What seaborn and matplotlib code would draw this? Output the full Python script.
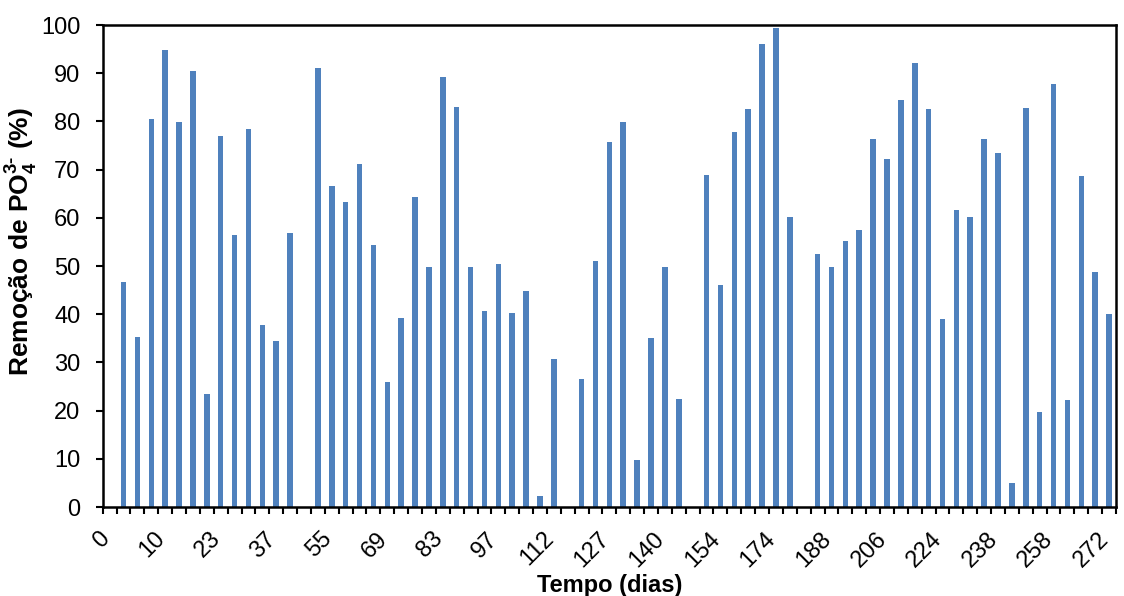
import numpy as np
import pandas as pd
import matplotlib
matplotlib.use("Agg")
import matplotlib.pyplot as plt
from matplotlib.ticker import FixedLocator, FixedFormatter
from matplotlib.transforms import ScaledTranslation
import seaborn as sns

# Phosphate removal (%) per sampling campaign; None = no measurement
removal = [
    None, 46.7, 35.2, 80.5, 94.8, 79.8, 90.5, 23.4, 77.0, 56.4,
    78.4, 37.8, 34.5, 56.9, None, 91.1, 66.6, 63.2, 71.2, 54.4,
    25.9, 39.3, 64.3, 49.9, 89.3, 83.0, 49.7, 40.7, 50.4, 40.2,
    44.9, 2.3, 30.8, None, 26.6, 51.1, 75.8, 79.9, 9.8, 35.0,
    49.9, 22.5, None, 68.9, 46.0, 77.9, 82.5, 96.0, 99.4, 60.1,
    None, 52.5, 49.7, 55.1, 57.5, 76.3, 72.2, 84.4, 92.1, 82.6,
    39.1, 61.6, 60.2, 76.3, 73.4, 5.0, 82.8, 19.7, 87.7, 22.3,
    68.7, 48.8, 40.0,
]
# Day labels shown on every fourth campaign
day_labels = ["0", "10", "23", "37", "55", "69", "83", "97", "112", "127",
              "140", "154", "174", "188", "206", "224", "238", "258", "272"]
label_step = 4

campaign = list(range(len(removal)))
df = pd.DataFrame({"campanha": campaign,
                   "remocao": pd.to_numeric(pd.Series(removal, dtype="float"))})

sns.set_theme(style="white")
plt.rcParams["font.family"] = ["Liberation Sans", "DejaVu Sans"]
plt.rcParams["mathtext.fontset"] = "custom"
plt.rcParams["mathtext.rm"] = "Liberation Sans:bold"
plt.rcParams["mathtext.bf"] = "Liberation Sans:bold"

fig = plt.figure(figsize=(11.24, 5.96), dpi=100)
ax = fig.add_axes([0.0914, 0.1493, 0.9015, 0.8087])

sns.barplot(data=df, x="campanha", y="remocao", order=campaign,
            color="#4F81BD", saturation=1, width=0.40, ax=ax,
            errorbar=None, linewidth=0)

ax.set_ylim(0, 100)
ax.set_xlim(-0.5, len(campaign) - 0.5)
ax.set_yticks(np.arange(0, 101, 10))

# Tick marks sit between categories; day labels sit on the categories
ax.xaxis.set_major_locator(FixedLocator(np.arange(-0.5, len(campaign), 1.0)))
ax.xaxis.set_major_formatter(FixedFormatter([]))
ax.xaxis.set_minor_locator(FixedLocator(campaign[::label_step]))
ax.xaxis.set_minor_formatter(FixedFormatter(day_labels))
ax.tick_params(axis="x", which="major", direction="out", length=5,
               width=1.5, color="black", bottom=True)
ax.tick_params(axis="x", which="minor", length=0, pad=15, labelsize=17,
               labelcolor="black", bottom=True)
shift = ScaledTranslation(3 / 72, 0, fig.dpi_scale_trans)
for lbl in ax.xaxis.get_minorticklabels():
    lbl.set_rotation(45)
    lbl.set_ha("right")
    lbl.set_va("top")
    lbl.set_transform(lbl.get_transform() + shift)
ax.tick_params(axis="y", direction="out", length=5, width=1.5,
               color="black", labelsize=17, labelcolor="black", left=True, pad=11)

for side in ["left", "right", "top", "bottom"]:
    ax.spines[side].set_visible(True)
    ax.spines[side].set_color("black")
    ax.spines[side].set_linewidth(1.8)

ax.set_xlabel("Tempo (dias)", fontsize=17, fontweight="bold", color="black")
ax.set_ylabel(r"Remoção de PO$_{4}^{3\text{-}}$ (%)", fontsize=19,
              fontweight="bold", color="black")
ax.xaxis.set_label_coords(0.5, -0.14)
ax.yaxis.set_label_coords(-0.063, 0.55)
ax.grid(False)

fig.savefig("out.png", dpi=100)
